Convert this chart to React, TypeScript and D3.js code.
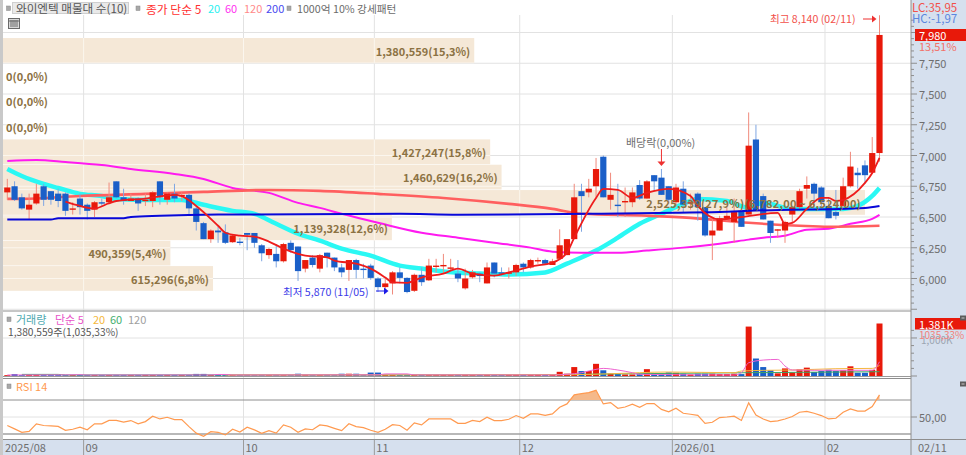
import * as d3 from 'd3'

const WIDTH = 966
const HEIGHT = 455
const PLOT_RIGHT = 911

// daily candles, oldest first (2025/08 .. 02/11)
const opens = [6700,6750,6660,6560,6610,6750,6710,6690,6690,6560,6650,6600,6560,6620,6620,6790,6660,6630,6650,6630,6630,6790,6640,6690,6670,6680,6570,6450,6320,6390,6375,6295,6300,6370,6370,6270,6190,6200,6140,6290,6260,6080,6170,6080,6210,6170,6090,6070,6150,6080,6105,6000,5930,5960,6050,6005,5900,6030,5985,6100,6105,6080,6040,5920,6010,6040,5960,6130,6050,6040,6050,6120,6090,6140,6150,6110,6160,6190,6320,6710,6700,6750,6990,6640,6600,6620,6620,6760,6650,6840,6820,6750,6620,6730,6610,6690,6580,6350,6390,6490,6460,6550,6520,7130,6670,6470,6390,6390,6520,6580,6730,6770,6740,6590,6540,6590,6750,6860,6920,6860,7020]
const highs = [6810,6790,6690,6690,6770,6770,6710,6730,6700,6620,6690,6610,6630,6650,6780,6790,6730,6690,6660,6690,6710,6790,6700,6770,6700,6690,6590,6460,6400,6420,6440,6360,6330,6370,6370,6280,6250,6280,6290,6310,6260,6150,6190,6200,6210,6170,6120,6150,6160,6120,6120,6010,6000,6060,6090,6010,6040,6090,6160,6160,6200,6160,6150,6080,6070,6050,6130,6130,6090,6090,6120,6130,6160,6170,6160,6160,6400,6320,6770,6770,6810,6980,7000,6860,6770,6740,6740,6800,6800,6840,6890,6750,6770,6790,6690,6700,6580,6500,6510,6580,6650,6550,7350,7250,6690,6470,6400,6470,6590,6730,6830,6780,6750,6660,6720,6820,7030,6900,6960,7150,8140]
const lows = [6640,6630,6560,6480,6600,6590,6600,6580,6510,6520,6520,6480,6500,6590,6600,6650,6600,6630,6550,6590,6580,6600,6600,6620,6630,6510,6390,6320,6290,6290,6280,6290,6270,6230,6250,6140,6160,6090,6130,6210,5980,6050,6090,6050,6090,6060,6010,5980,6000,6000,5990,5890,5880,5870,5960,5880,5890,5940,5980,6050,6040,6070,5970,5910,6000,5970,5960,6010,6020,6000,6020,6050,6080,6120,6110,6110,6150,6190,6320,6380,6660,6660,6660,6560,6500,6500,6580,6640,6650,6710,6680,6610,6590,6540,6560,6470,6340,6150,6390,6470,6290,6420,6520,6550,6480,6290,6330,6290,6450,6560,6650,6560,6560,6490,6480,6580,6740,6730,6770,6850,6950]
const closes = [6740,6640,6570,6600,6690,6640,6640,6630,6550,6570,6580,6550,6620,6610,6660,6660,6630,6650,6610,6640,6700,6660,6690,6650,6680,6570,6460,6320,6390,6375,6290,6350,6290,6355,6290,6205,6240,6140,6280,6230,6060,6150,6110,6190,6170,6090,6050,6150,6070,6070,6005,5930,5960,6050,6005,5890,6030,5970,6105,6105,6110,6090,6000,6000,6050,6020,6090,6040,6040,6050,6110,6090,6150,6150,6120,6140,6270,6320,6660,6670,6730,6890,6660,6680,6590,6630,6700,6650,6790,6790,6680,6640,6740,6600,6620,6580,6350,6390,6490,6510,6540,6420,7080,6550,6480,6370,6400,6460,6580,6710,6760,6690,6620,6490,6510,6750,6910,6840,6840,7020,7980]

// volume in thousands of shares
const volumes = [22,50,22,22,22,22,22,22,22,22,22,22,22,22,22,22,22,22,22,22,22,22,22,22,22,22,55,55,22,22,22,22,22,22,22,22,22,22,22,22,60,22,22,22,22,22,60,60,60,22,90,90,25,25,25,25,25,25,25,25,25,25,25,25,25,25,25,25,25,25,25,25,25,25,25,25,110,60,235,130,130,320,150,60,50,40,40,50,180,60,60,95,85,60,40,60,60,60,50,50,60,50,1300,460,235,150,70,200,95,175,220,105,130,165,130,150,255,85,85,160,1381]

// moving averages as [candle index, value]
const ma5: [number, number][] = [[8,6625],[10,6590],[12,6569],[14,6612],[15,6630],[19,6650],[23,6680],[24,6670],[26,6590],[29,6429],[30,6372],[32,6348],[34,6340],[36,6300],[38,6243],[41,6186],[44,6172],[45,6146],[48,6120],[50,6080],[52,6008],[53,5968],[55,5965],[57,6008],[60,6040],[62,6080],[64,6040],[67,6024],[69,6049],[72,6097],[75,6129],[77,6210],[78,6332],[81,6655],[82,6728],[84,6720],[86,6655],[88,6696],[91,6728],[94,6670],[95,6590],[98,6480],[101,6500],[106,6534],[107,6445],[108,6453],[110,6566],[112,6655],[113,6655],[114,6631],[115,6639],[118,6777],[119,6858],[120,6980]]
const ma20: [number, number][] = [[0,6890],[2,6833],[5,6769],[7,6736],[10,6688],[13,6671],[15,6647],[20,6639],[24,6639],[27,6599],[31,6550],[34,6526],[37,6445],[40,6364],[43,6307],[46,6243],[50,6186],[54,6105],[57,6081],[60,6057],[65,6040],[69,6032],[74,6049],[77,6121],[81,6227],[84,6332],[87,6445],[90,6526],[93,6607],[95,6647],[99,6631],[102,6574],[104,6615],[108,6566],[111,6566],[115,6566],[117,6590],[119,6671],[120,6736]]
const ma60: [number, number][] = [[0,6955],[4,6963],[8,6947],[13,6922],[17,6890],[23,6850],[27,6809],[31,6736],[36,6696],[40,6615],[43,6574],[46,6526],[51,6453],[57,6372],[62,6332],[67,6291],[72,6251],[75,6218],[79,6210],[84,6210],[88,6227],[93,6251],[98,6283],[102,6316],[104,6332],[107,6348],[110,6396],[113,6405],[116,6445],[119,6485],[120,6518]]
const ma120: [number, number][] = [[0,6647],[2,6647],[10,6671],[19,6688],[27,6704],[36,6720],[43,6712],[51,6688],[60,6655],[69,6607],[75,6566],[79,6526],[88,6510],[94,6493],[102,6453],[109,6429],[113,6421],[120,6429]]
const ma200: [number, number][] = [[0,6480],[6,6480],[7,6490],[16,6490],[17,6500],[21,6510],[29,6520],[54,6526],[62,6518],[80,6526],[92,6534],[99,6542],[102,6550],[118,6574],[120,6590]]

const volMa5: [number, number][] = [[0,26],[8,30],[10,34],[11,26],[28,28],[29,40],[30,40],[31,26],[51,30],[52,55],[55,55],[56,28],[75,26],[77,44],[79,87],[81,175],[82,200],[84,157],[86,87],[87,44],[100,26],[101,87],[102,349],[104,419],[106,436],[107,262],[108,157],[111,150],[119,150],[120,375]]
const volMa20: [number, number][] = [[30,28],[60,30],[78,35],[83,60],[91,105],[100,87],[101,130],[104,148],[108,157],[114,192],[119,200],[120,280]]
const volMa60: [number, number][] = [[2,42],[7,42],[8,28],[40,30],[70,32],[86,60],[102,87],[120,113]]

// RSI(14), one value per candle
const rsi = [40,36,32,33,42,40,39.5,39,34.4,35.6,38,35,42,42,46,46,44,45.8,42,44.6,50.9,47.7,49.7,47,47,38.7,31,27.4,32.8,32,29,35.6,32.4,38,34.8,30.9,34,31,40.7,38,32,36,35,40.7,39.5,36.7,34,42,38.7,37.5,34.4,32,35.6,41,40,34.4,43,40.7,47.7,47.7,47.7,47.7,42.6,42.6,46,44.6,49.7,45.8,45.8,47.3,51.7,48.5,53.6,53.6,52,53.6,61.5,65.4,76,77.5,78.7,81.4,65.4,67,60.3,61.8,65,61.5,65.8,65.8,59,56,60.3,54.4,53.2,52,42.6,43.8,49.3,50,50.9,46,66.6,52.4,47.7,44.6,45.4,47.7,50.5,55.6,56.7,54.4,51.7,47.7,48.5,55.6,59.5,57,57,62.2,76]

// volume by price, top row first
const profileVolumes = [1380559,0,0,0,1427247,1460629,2525339,1139328,490359,615296]
const profilePercents = ['15,3','0,0','0,0','0,0','15,8','16,2','27,9','12,6','5,4','6,8']
const profileTop = 7955
const profileBottom = 5895

const monthStarts = [0,11,33,51,71,92,113]
const monthLabels = ['2025/08','09','10','11','12','2026/01','02']
const priceTicks = [6000,6250,6500,6750,7000,7250,7500,7750,8000]

const RED = '#E8190A'
const BLUE = '#1A5FC8'
const WICK_RED = '#F08A7C'
const WICK_BLUE = '#7FA6E2'
const GRID = '#E2E2E2'
const PANEL = '#D6E0EE'
const BROWN = '#8C7243'
const AXIS_TEXT = '#6E6E6E'
const KR = "'Noto Sans CJK KR', sans-serif"

const x = d3.scaleLinear().domain([0, 120]).range([7.3, 879.5])
const y = d3.scaleLinear().domain([6000, 8000]).range([278.5, 32.5])
const yVol = d3.scaleLinear().domain([0, 1381]).range([376, 323.5])
const yRsi = d3.scaleLinear().domain([30, 70]).range([434, 400])
const profileY = d3.scaleBand<number>().domain(d3.range(10)).range([y(profileTop), y(profileBottom)])
const profileW = d3.scaleLinear().domain([0, 2525339]).range([0, 862])

const maLine = d3.line<[number, number]>().x((d) => x(d[0])).y((d) => y(d[1])).curve(d3.curveMonotoneX)
const volLine = d3.line<[number, number]>().x((d) => x(d[0])).y((d) => yVol(d[1])).curve(d3.curveMonotoneX)
const rsiLine = d3.line<number>().x((_, i) => x(i)).y((d) => yRsi(d))
const rsiArea = d3.area<number>().x((_, i) => x(i)).y0(yRsi(70)).y1((d) => yRsi(d))

const hGrid = [...priceTicks.map((t) => y(t)), y(5750)]
const monthX = monthStarts.map((i, k) => (k === 0 ? 3 : x(i - 0.5)))

function Grid({ stroke }: { stroke: string }) {
  return (
    <g stroke={stroke} strokeWidth={1}>
      {hGrid.map((v) => <line key={v} x1={3} x2={PLOT_RIGHT} y1={v} y2={v} />)}
      {monthX.slice(1).map((v) => <line key={v} x1={v} x2={v} y1={15} y2={439} />)}
    </g>
  )
}

function Label(props: { x: number; y: number; fill: string; size?: number; anchor?: string; weight?: number; spacing?: number; children: any }) {
  return (
    <text x={props.x} y={props.y} fill={props.fill} fontSize={props.size ?? 11} textAnchor={props.anchor ?? 'start'}
      fontWeight={props.weight ?? 400} letterSpacing={props.spacing ?? 0} dominantBaseline="central" fontFamily={KR}>
      {props.children}
    </text>
  )
}

function PanelIcon({ cy }: { cy: number }) {
  return (
    <g>
      <rect x={960} y={cy - 2.5} width={6} height={5} fill="#5c5c5c" />
      <rect x={961.5} y={cy - 0.5} width={3} height={1} fill="#c8c8c8" />
    </g>
  )
}

export default function App() {
  return (
    <>
      <style>{'body{margin:0}'}</style>
      <svg width={WIDTH} height={HEIGHT} style={{ display: 'block' }}>
        <defs>
          <clipPath id="bands">
            {profileVolumes.map((v, i) => (
              <rect key={i} x={3} y={profileY(i)} width={profileW(v)} height={profileY.bandwidth()} />
            ))}
          </clipPath>
          <clipPath id="above70">
            <rect x={0} y={379} width={PLOT_RIGHT} height={yRsi(70) - 379} />
          </clipPath>
        </defs>

        <rect width={WIDTH} height={HEIGHT} fill="#fff" />
        <Grid stroke={GRID} />

        {/* volume by price */}
        {profileVolumes.map((v, i) => (
          <rect key={i} x={3} y={profileY(i)} width={profileW(v)} height={profileY.bandwidth() - 0.6} fill="#F5E8D7" />
        ))}
        <g clipPath="url(#bands)"><Grid stroke="#FBF6EE" /></g>

        {/* panes and frame */}
        <line x1={3} x2={PLOT_RIGHT} y1={311} y2={311} stroke="#8E8E8E" />
        <line x1={3} x2={PLOT_RIGHT} y1={338} y2={338} stroke={GRID} />
        <line x1={3} x2={PLOT_RIGHT} y1={376.5} y2={376.5} stroke="#9A9A9A" />
        <line x1={3} x2={PLOT_RIGHT} y1={378.5} y2={378.5} stroke="#8E8E8E" />
        <line x1={3} x2={PLOT_RIGHT} y1={yRsi(70)} y2={yRsi(70)} stroke="#8E8E8E" />
        <line x1={3} x2={PLOT_RIGHT} y1={yRsi(50)} y2={yRsi(50)} stroke={GRID} />
        <line x1={3} x2={PLOT_RIGHT} y1={yRsi(30)} y2={yRsi(30)} stroke="#A0A0A0" strokeWidth={1.4} />

        {/* slow averages sit under the candles */}
        <path d={maLine(ma20) ?? ''} fill="none" stroke="#2AF8F4" strokeWidth={4.5} />
        <path d={maLine(ma60) ?? ''} fill="none" stroke="#FF1AF0" strokeWidth={2} />
        <path d={maLine(ma120) ?? ''} fill="none" stroke="#FF5F5F" strokeWidth={2.6} />

        {closes.map((c, i) => {
          const up = c >= opens[i]
          const top = y(Math.max(opens[i], c))
          const bottom = y(Math.min(opens[i], c))
          return (
            <g key={i}>
              <line x1={x(i)} x2={x(i)} y1={y(highs[i])} y2={y(lows[i])} stroke={up ? WICK_RED : WICK_BLUE} />
              <rect x={x(i) - 3.1} y={top} width={6.2} height={Math.max(bottom - top, 1.4)} fill={up ? RED : BLUE} />
            </g>
          )
        })}

        <path d={maLine(ma200) ?? ''} fill="none" stroke="#0808D8" strokeWidth={2} />
        <path d={maLine(ma5) ?? ''} fill="none" stroke="#EE1C1C" strokeWidth={1.8} />

        {/* volume */}
        {volumes.map((v, i) => (
          <rect key={i} x={x(i) - 3} y={yVol(v)} width={6} height={yVol(0) - yVol(v)} fill={closes[i] >= opens[i] ? RED : BLUE} />
        ))}
        <path d={volLine(volMa60) ?? ''} fill="none" stroke="#3FA765" strokeWidth={1} />
        <path d={volLine(volMa20) ?? ''} fill="none" stroke="#F5B840" strokeWidth={1} />
        <path d={volLine(volMa5) ?? ''} fill="none" stroke="#EE62D0" strokeWidth={1} />

        {/* RSI */}
        <path d={rsiArea(rsi) ?? ''} fill="#F5B98A" clipPath="url(#above70)" />
        <path d={rsiLine(rsi) ?? ''} fill="none" stroke="#FF9A50" strokeWidth={1.2} />

        {/* right and bottom axes */}
        <rect x={PLOT_RIGHT} y={0} width={WIDTH - PLOT_RIGHT} height={HEIGHT} fill={PANEL} />
        <rect x={0} y={439.5} width={WIDTH} height={HEIGHT - 439.5} fill={PANEL} />
        <rect x={0} y={0} width={3} height={HEIGHT} fill="#C9C9C9" />
        <line x1={3} x2={WIDTH} y1={439.5} y2={439.5} stroke="#8E8E8E" />
        <line x1={PLOT_RIGHT} x2={PLOT_RIGHT} y1={0} y2={HEIGHT} stroke="#8E8E8E" />
        {d3.range(5750, 8150, 50).map((t) => (
          <line key={t} x1={PLOT_RIGHT} x2={PLOT_RIGHT + (t % 250 === 0 ? 6 : 3)} y1={y(t)} y2={y(t)} stroke="#8E8E8E" />
        ))}
        {d3.range(0, 1400, 200).map((t) => (
          <line key={t} x1={PLOT_RIGHT} x2={PLOT_RIGHT + (t % 1000 === 0 ? 6 : 3)} y1={yVol(t)} y2={yVol(t)} stroke="#8E8E8E" />
        ))}
        <line x1={PLOT_RIGHT} x2={PLOT_RIGHT + 6} y1={yRsi(50)} y2={yRsi(50)} stroke="#8E8E8E" />
        {priceTicks.map((t) => (
          <Label key={t} x={919} y={y(t)} fill={AXIS_TEXT}>{d3.format(',')(t)}</Label>
        ))}
        <Label x={921} y={339} fill="#9CA6B2" size={10}>1,000K</Label>
        <Label x={919} y={yRsi(50)} fill={AXIS_TEXT}>50,00</Label>
        {monthLabels.map((m, k) => (
          <g key={m}>
            {k > 0 && <line x1={monthX[k]} x2={monthX[k]} y1={440} y2={455} stroke="#9A9A9A" />}
            <Label x={monthX[k] + 2} y={447} fill={AXIS_TEXT}>{m}</Label>
          </g>
        ))}
        <Label x={918} y={447} fill={AXIS_TEXT}>02/11</Label>

        <Label x={912} y={7} fill="#F2504A" size={11.5}>LC:35,95</Label>
        <Label x={912} y={18} fill="#5B86DE" size={11.5}>HC:-1,97</Label>
        <rect x={915} y={29} width={51} height={12} fill={RED} />
        <Label x={919} y={35} fill="#fff">{d3.format(',')(closes[120])}</Label>
        <Label x={919} y={46} fill="#F2706A">13,51%</Label>
        <rect x={915} y={318} width={51} height={11.5} fill={RED} />
        <Label x={919} y={323.5} fill="#fff">1,381K</Label>
        <Label x={919} y={334} fill="#F2807A" size={10}>1035,33%</Label>
        <PanelIcon cy={318} />
        <PanelIcon cy={384} />

        {/* header */}
        <rect x={6.5} y={6} width={4} height={4.5} fill="#A8A8A8" stroke="#888" strokeWidth={0.5} />
        <rect x={12.5} y={2.5} width={116} height={11} fill="#E9E9E9" stroke="#CFCFCF" />
        <Label x={16} y={8} fill="#555" size={11.6}>와이엔텍 매물대 수(10)</Label>
        <rect x={136} y={6} width={4} height={4.5} fill="#A8A8A8" stroke="#888" strokeWidth={0.5} />
        <Label x={146} y={8} fill="#FF3030" size={11.8}>종가 단순 5</Label>
        <Label x={208} y={8} fill="#2CF0F0">20</Label>
        <Label x={225} y={8} fill="#FF30F0">60</Label>
        <Label x={244} y={8} fill="#FF8A8A">120</Label>
        <Label x={266} y={8} fill="#4A4AF0">200</Label>
        <rect x={287} y={6} width={4} height={4.5} fill="#A8A8A8" stroke="#888" strokeWidth={0.5} />
        <Label x={297} y={8} fill="#6A6A6A" size={10.7}>1000억 10% 강세패턴</Label>
        <g stroke="#6A6A6A" fill="#D8D8D8">
          <rect x={8.5} y={18.5} width={11} height={10} />
          {[11, 13, 15, 17].map((v) => <line key={v} x1={v} x2={v} y1={20} y2={27} />)}
          <line x1={9} x2={19} y1={21} y2={21} />
        </g>

        {/* volume by price labels */}
        {profileVolumes.map((v, i) => {
          const cy = (profileY(i) ?? 0) + profileY.bandwidth() / 2
          const txt = `${d3.format(',')(v)}(${profilePercents[i]}%)`
          if (v === 0) return <Label key={i} x={6} y={cy} fill={BROWN} weight={700}>{txt}</Label>
          const extra = v === d3.max(profileVolumes) ? '(6,782,00 ~ 6,524,00)' : ''
          return <Label key={i} x={3 + profileW(v) - 4} y={cy} fill={BROWN} weight={700} anchor="end" spacing={extra ? 0.22 : 0}>{txt + extra}</Label>
        })}

        {/* annotations */}
        <Label x={770} y={18} fill="#F2504A" size={10.6}>최고 8,140 (02/11)</Label>
        <line x1={863} x2={873} y1={19} y2={19} stroke="#EE3030" />
        <path d={d3.line()([[872, 15.5], [876.5, 19], [872, 22.5]]) + 'Z'} fill="#EE3030" />
        <Label x={626} y={142} fill="#6E6E6E">배당락(0,00%)</Label>
        <line x1={x(90)} x2={x(90)} y1={149} y2={162} stroke="#EE3030" />
        <path d={d3.line()([[x(90) - 4, 161.5], [x(90) + 4, 161.5], [x(90), 166]]) + 'Z'} fill="#EE3030" />
        <Label x={283} y={291} fill="#3A3AE8" size={10.6}>최저 5,870 (11/05)</Label>
        <line x1={376} x2={385} y1={291} y2={291} stroke="#1A1AE8" />
        <path d={d3.line()([[384, 287.5], [388.5, 291], [384, 294.5]]) + 'Z'} fill="#1A1AE8" />

        {/* pane titles */}
        <rect x={7} y={317} width={4} height={4.5} fill="#A8A8A8" stroke="#888" strokeWidth={0.5} />
        <Label x={16} y={319} fill="#4FA9B0">거래량</Label>
        <Label x={55} y={319} fill="#E854C8">단순 5</Label>
        <Label x={93} y={319} fill="#F5B840">20</Label>
        <Label x={110} y={319} fill="#45AE6E">60</Label>
        <Label x={128} y={319} fill="#A0A0A0">120</Label>
        <Label x={8} y={331} fill="#555" size={10.2}>1,380,559주(1,035,33%)</Label>
        <rect x={7} y={384} width={4} height={4.5} fill="#A8A8A8" stroke="#888" strokeWidth={0.5} />
        <Label x={16} y={386} fill="#FF9A50">RSI 14</Label>
      </svg>
    </>
  )
}
